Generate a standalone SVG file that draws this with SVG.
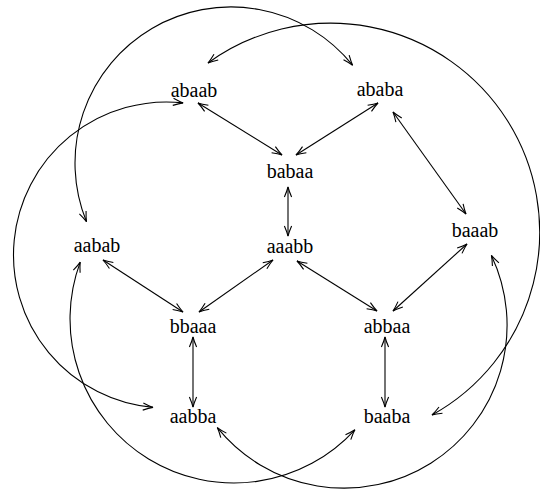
<svg xmlns="http://www.w3.org/2000/svg" width="540" height="489" viewBox="0 0 540 489">
<defs>
<style>
.lbl{font-family:"Liberation Serif","Times New Roman",serif;font-size:20px;fill:#000;text-anchor:middle}
.e{fill:none;stroke:#000;stroke-width:1.1;marker-start:url(#ah);marker-end:url(#ah)}
</style>
<marker id="ah" markerUnits="userSpaceOnUse" markerWidth="14" markerHeight="10" viewBox="-12 -5 14 10" refX="0" refY="0" orient="auto-start-reverse" overflow="visible">
<path d="M-10,-3.6 Q-4,-1 0,0 Q-4,1 -10,3.6" fill="none" stroke="#000" stroke-width="1.1"/>
</marker>
</defs>
<rect width="540" height="489" fill="#fff"/>
<g id="connectors">
<line class="e" x1="198" y1="103" x2="282" y2="155"/>
<line class="e" x1="378" y1="103" x2="296" y2="155"/>
<line class="e" x1="288" y1="187" x2="288" y2="236"/>
<line class="e" x1="273" y1="260" x2="199" y2="312"/>
<line class="e" x1="297" y1="261" x2="377" y2="311"/>
<line class="e" x1="103" y1="260" x2="183" y2="312"/>
<line class="e" x1="393" y1="112" x2="466" y2="214"/>
<line class="e" x1="467" y1="244" x2="393" y2="311"/>
<line class="e" x1="193" y1="337" x2="193" y2="407"/>
<line class="e" x1="385" y1="337" x2="385" y2="407"/>
<path class="e" d="M86.5,221.7 A156,156 0 0 1 352.6,65.2"/>
<path class="e" d="M208,63 A209,209 0 1 1 432,415"/>
<path class="e" d="M491.4,255.4 A163,163 0 0 1 217.3,427.6"/>
<path class="e" d="M80.2,262.1 A164,164 0 0 0 354.9,429.8"/>
<path class="e" d="M183.1,102.9 A153,153 0 1 0 153,407.4"/>
</g>
<g id="n-abaab"><text class="lbl" x="194" y="97">abaab</text></g>
<g id="n-ababa"><text class="lbl" x="380" y="96">ababa</text></g>
<g id="n-babaa"><text class="lbl" x="290" y="178">babaa</text></g>
<g id="n-aabab"><text class="lbl" x="97" y="252">aabab</text></g>
<g id="n-aaabb"><text class="lbl" x="290" y="253">aaabb</text></g>
<g id="n-baaab"><text class="lbl" x="475" y="237">baaab</text></g>
<g id="n-bbaaa"><text class="lbl" x="193" y="333">bbaaa</text></g>
<g id="n-abbaa"><text class="lbl" x="387" y="333">abbaa</text></g>
<g id="n-aabba"><text class="lbl" x="193" y="423">aabba</text></g>
<g id="n-baaba"><text class="lbl" x="387" y="423">baaba</text></g>
</svg>
